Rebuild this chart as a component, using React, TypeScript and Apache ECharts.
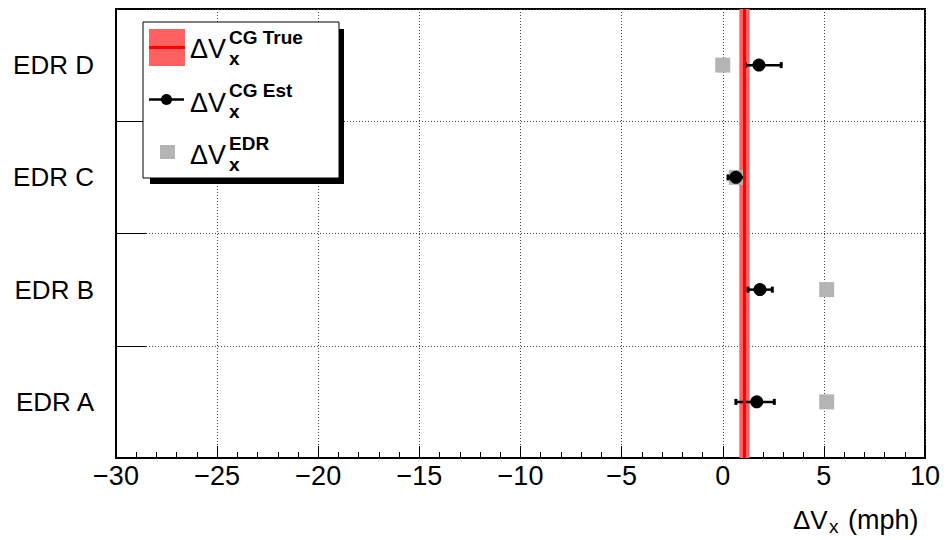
import React, { useEffect, useRef } from 'react';
import * as echarts from 'echarts';

// ---- data ----
const categories = ['EDR A', 'EDR B', 'EDR C', 'EDR D'];
const estValues = [1.68, 1.84, 0.65, 1.79];
const estLow = [0.65, 1.25, 0.26, 1.11];
const estHigh = [2.55, 2.45, 1.08, 2.89];
const edrValues = [5.14, 5.14, 0.67, 0.0];
const trueValue = 1.05;
const trueLow = 0.82;
const trueHigh = 1.33;
const xMin = -30;
const xMax = 10;
const xInterval = 5;

const FONT = 'Liberation Sans';
const BAND_COLOR = '#ff6060';
const GRAY = '#b4b4b4';

function txt(text: string, x: number, y: number, size: number, weight: string = 'normal') {
  return {
    type: 'text',
    z: 20,
    style: {
      text,
      x,
      y,
      fill: '#000',
      fontSize: size,
      fontFamily: FONT,
      fontWeight: weight,
      align: 'left',
      verticalAlign: 'middle',
      textAlign: 'left',
      textVerticalAlign: 'middle',
    },
  };
}

function legendLabel(sup: string, cy: number) {
  return [
    txt('ΔV', 190, cy, 27),
    txt(sup, 229, cy - 12, 19, 'bold'),
    txt('x', 229, cy + 9, 19, 'bold'),
  ];
}

export default function App() {
  const ref = useRef<HTMLDivElement>(null);
  useEffect(() => {
    if (!ref.current) return;
    const chart = echarts.init(ref.current, undefined, { renderer: 'svg' });
    const dotted = { color: '#444', type: [1, 2], width: 1 };
    const option: any = {
      animation: false,
      backgroundColor: '#fff',
      grid: {
        left: 116,
        right: 21,
        top: 9,
        bottom: 82,
        show: true,
        borderColor: '#000',
        borderWidth: 2,
        backgroundColor: 'transparent',
      },
      xAxis: {
        type: 'value',
        min: xMin,
        max: xMax,
        interval: xInterval,
        axisLine: { show: true, onZero: false, lineStyle: { color: '#000', width: 2 } },
        axisTick: { show: true, inside: true, length: 12, lineStyle: { color: '#000', width: 1 } },
        minorTick: { show: true, splitNumber: 5, length: 6, lineStyle: { color: '#000', width: 1 } },
        axisLabel: {
          fontSize: 27,
          fontFamily: FONT,
          color: '#000',
          margin: 4,
          formatter: (v: number) => (v < 0 ? '\u2212' + Math.abs(v) : String(v)),
        },
        splitLine: { show: true, lineStyle: dotted },
        minorSplitLine: { show: false },
      },
      yAxis: {
        type: 'category',
        data: categories,
        axisLine: { show: true, onZero: false, lineStyle: { color: '#000', width: 2 } },
        axisTick: { show: true, inside: true, length: 30, lineStyle: { color: '#000', width: 1 } },
        axisLabel: { fontSize: 26, fontFamily: FONT, color: '#000', margin: 22 },
        splitLine: { show: true, lineStyle: dotted },
      },
      series: [
        {
          name: 'true',
          type: 'scatter',
          data: [],
          z: 1,
          markArea: {
            silent: true,
            itemStyle: { color: BAND_COLOR, opacity: 1 },
            data: [[{ xAxis: trueLow }, { xAxis: trueHigh }]],
          },
          markLine: {
            silent: true,
            symbol: ['none', 'none'],
            label: { show: false },
            lineStyle: { color: '#ff0000', width: 3, type: 'solid', opacity: 1 },
            data: [{ xAxis: trueValue }],
          },
        },
        {
          name: 'edr',
          type: 'scatter',
          symbol: 'rect',
          symbolSize: 15,
          itemStyle: { color: GRAY, opacity: 1 },
          z: 2,
          data: edrValues.map((v, i) => [v, i]),
        },
        {
          name: 'err',
          type: 'custom',
          z: 3,
          encode: { x: [0, 1], y: 2 },
          data: estLow.map((l, i) => [l, estHigh[i], i]),
          renderItem: (params: any, api: any) => {
            const lo = api.coord([api.value(0), api.value(2)]);
            const hi = api.coord([api.value(1), api.value(2)]);
            const y = lo[1];
            const st = { stroke: '#000', lineWidth: 2.5 };
            return {
              type: 'group',
              children: [
                { type: 'line', shape: { x1: lo[0], y1: y, x2: hi[0], y2: y }, style: st },
                { type: 'line', shape: { x1: lo[0], y1: y - 3, x2: lo[0], y2: y + 3 }, style: { stroke: '#000', lineWidth: 3 } },
                { type: 'line', shape: { x1: hi[0], y1: y - 3, x2: hi[0], y2: y + 3 }, style: { stroke: '#000', lineWidth: 3 } },
              ],
            };
          },
        },
        {
          name: 'est',
          type: 'scatter',
          symbol: 'circle',
          symbolSize: 13,
          itemStyle: { color: '#000', opacity: 1 },
          z: 4,
          data: estValues.map((v, i) => [v, i]),
        },
      ],
      graphic: [
        // legend shadow and box
        { type: 'rect', z: 10, shape: { x: 150, y: 29, width: 194, height: 155 }, style: { fill: '#000' } },
        { type: 'rect', z: 11, shape: { x: 143, y: 22, width: 196, height: 156 }, style: { fill: '#fff', stroke: '#000', lineWidth: 1 } },
        // entry 1 : true band
        { type: 'rect', z: 12, shape: { x: 149, y: 29, width: 36, height: 37 }, style: { fill: BAND_COLOR } },
        { type: 'line', z: 13, shape: { x1: 149, y1: 47.5, x2: 185, y2: 47.5 }, style: { stroke: '#ff0000', lineWidth: 3 } },
        ...legendLabel('CG True', 49),
        // entry 2 : est
        { type: 'line', z: 12, shape: { x1: 149, y1: 99.5, x2: 184, y2: 99.5 }, style: { stroke: '#000', lineWidth: 2.5 } },
        { type: 'circle', z: 13, shape: { cx: 166.5, cy: 99.5, r: 5.5 }, style: { fill: '#000' } },
        ...legendLabel('CG Est', 102.5),
        // entry 3 : edr
        { type: 'rect', z: 12, shape: { x: 160, y: 145, width: 15, height: 14 }, style: { fill: GRAY } },
        ...legendLabel('EDR', 155),
        // axis title
        txt('ΔV', 793, 520, 26),
        txt('x', 829, 526, 19),
        txt('(mph)', 848, 520, 27),
      ],
    };
    chart.setOption(option);
    return () => chart.dispose();
  }, []);
  return (
    <div
      ref={ref}
      style={{ position: 'fixed', left: 0, top: 0, width: 946, height: 540, background: '#fff' }}
    />
  );
}
